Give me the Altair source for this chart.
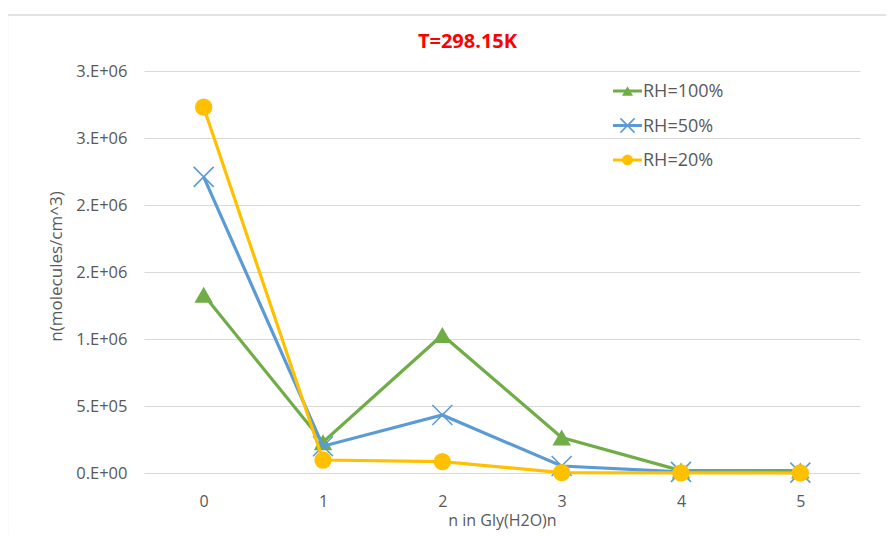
import altair as alt
import pandas as pd

# ---- data ----
n_values = [0, 1, 2, 3, 4, 5]
series_names = ["RH=100%", "RH=50%", "RH=20%"]
rh100 = [1.33e6, 2.3e5, 1.03e6, 2.65e5, 1.8e4, 1.8e4]
rh50 = [2.21e6, 2.0e5, 4.33e5, 5.2e4, 8.0e3, 3.0e3]
rh20 = [2.73e6, 9.7e4, 8.5e4, 3.0e3, 5.0e2, 1.0e2]
series_values = [rh100, rh50, rh20]

y_tick_values = [0, 500000, 1000000, 1500000, 2000000, 2500000, 3000000]
y_tick_labels = ["0.E+00", "5.E+05", "1.E+06", "2.E+06", "2.E+06", "3.E+06", "3.E+06"]

chart_title = "T=298.15K"
colors = ["#70AD47", "#5B9BD5", "#FFC000"]
FONT = "Open Sans"
GRAY = "#595959"

rows = []
for name, vals in zip(series_names, series_values):
    for n, v in zip(n_values, vals):
        rows.append({"n": n, "value": v, "series": name})
df = pd.DataFrame(rows)
legend_df = pd.DataFrame({"series": series_names})
one_row = pd.DataFrame({"title": [chart_title]})

label_expr = "[" + ",".join(f"'{l}'" for l in y_tick_labels) + "][round(datum.value/500000)]"

x_enc = alt.X(
    "n:O",
    scale=alt.Scale(type="point", padding=0.5),
    axis=alt.Axis(
        title="n in Gly(H2O)n",
        labelAngle=0,
        domain=False,
        ticks=False,
        grid=False,
        labelPadding=20,
        labelFontSize=16,
        labelColor=GRAY,
        labelFont=FONT,
        titleFont=FONT,
        titleFontSize=16,
        titleFontWeight="normal",
        titleColor=GRAY,
        titlePadding=3,
    ),
)
y_enc = alt.Y(
    "value:Q",
    scale=alt.Scale(domain=[0, 3000000], nice=False, zero=True),
    axis=alt.Axis(
        title="n(molecules/cm^3)",
        values=y_tick_values,
        labelExpr=label_expr,
        domain=False,
        ticks=False,
        grid=True,
        gridColor="#D9D9D9",
        gridWidth=1.2,
        labelPadding=17,
        labelFontSize=16.5,
        labelColor=GRAY,
        labelFont=FONT,
        titleFont=FONT,
        titleFontSize=17,
        titleFontWeight="normal",
        titleColor=GRAY,
        titlePadding=10,
        titleY=195,
    ),
)

shapes = ["triangle-up", "M-1,-1L1,1M-1,1L1,-1", "circle"]
sizes = [340, 400, 300]
legend_sizes = [120, 200, 120]
filled = [True, False, True]

layers = []
# chart-area border (decoration)
border_left = alt.Chart(one_row).mark_rule(color="#D9D9D9", strokeWidth=1.3).encode(
    x=alt.value(-136.5), y=alt.value(-56), y2=alt.value(540)
)
border_top = alt.Chart(one_row).mark_rule(color="#D9D9D9", strokeWidth=1.3).encode(
    x=alt.value(-136.5), x2=alt.value(800), y=alt.value(-56)
)
title_txt = alt.Chart(one_row).mark_text(
    font=FONT, fontSize=20, fontWeight="bold", color="#FF0000", align="center", baseline="alphabetic"
).encode(x=alt.value(323.5), y=alt.value(-23), text="title:N")
layers += [border_left, border_top, title_txt]

for i, name in enumerate(series_names):
    sub = df[df["series"] == name]
    line = alt.Chart(sub).mark_line(color=colors[i], strokeWidth=3.2).encode(x=x_enc, y=y_enc)
    pt_kwargs = dict(shape=shapes[i], size=sizes[i], opacity=1, filled=filled[i])
    if filled[i]:
        pt_kwargs.update(fill=colors[i], color=colors[i])
    else:
        pt_kwargs.update(stroke=colors[i], color=colors[i], strokeWidth=1.6)
    pts = alt.Chart(sub).mark_point(**pt_kwargs).encode(x=x_enc, y=y_enc)
    layers += [line, pts]

# manual legend
for i, name in enumerate(series_names):
    ld = legend_df[legend_df["series"] == name]
    ly = 20 + 34.5 * i
    lrule = alt.Chart(ld).mark_rule(color=colors[i], strokeWidth=3).encode(
        x=alt.value(469), x2=alt.value(498), y=alt.value(ly)
    )
    pt_kwargs = dict(shape=shapes[i], size=legend_sizes[i], opacity=1, filled=filled[i])
    if filled[i]:
        pt_kwargs.update(fill=colors[i], color=colors[i])
    else:
        pt_kwargs.update(stroke=colors[i], color=colors[i], strokeWidth=1.6)
    lpt = alt.Chart(ld).mark_point(**pt_kwargs).encode(x=alt.value(483.5), y=alt.value(ly))
    ltxt = alt.Chart(ld).mark_text(
        align="left", baseline="middle", font=FONT, fontSize=18, color=GRAY
    ).encode(x=alt.value(499), y=alt.value(ly + 1), text="series:N")
    layers += [lrule, lpt, ltxt]

chart = (
    alt.layer(*layers)
    .properties(
        width=716,
        height=402,
        autosize="none",
        padding={"left": 136, "top": 63, "right": 26, "bottom": 62},
        background="white",
    )
    .configure_view(stroke=None)
)

chart.save("out.html", embed_options={"renderer": "svg", "actions": False})
